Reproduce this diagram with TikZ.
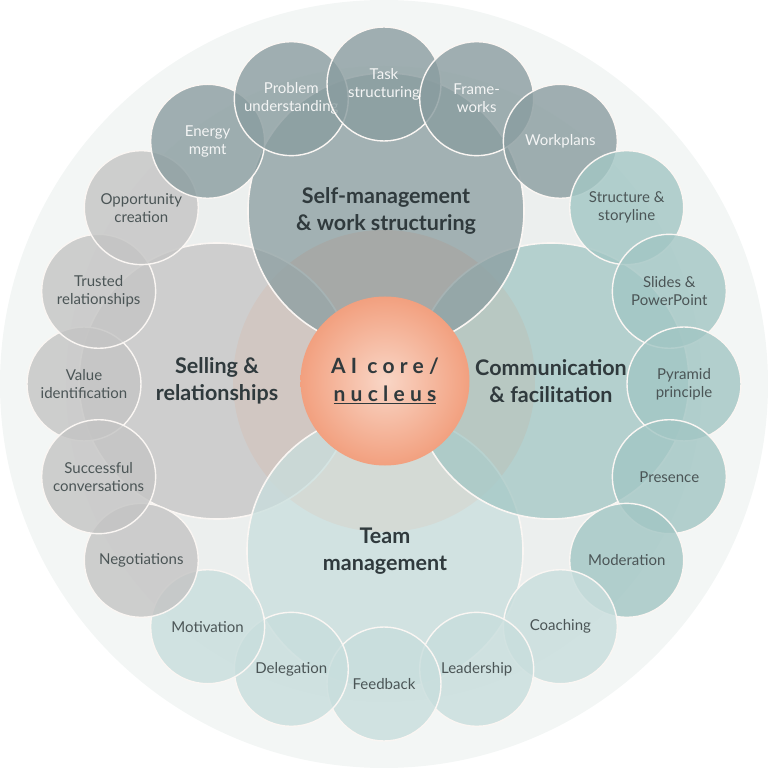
\documentclass[tikz,border=0pt]{standalone}
\usepackage{fontspec}
\setmainfont{Lato}
\definecolor{ringa}{HTML}{F3F6F5}
\definecolor{ringb}{HTML}{ECEFEE}
\definecolor{glow}{HTML}{FAD0BE}
\definecolor{rimc}{HTML}{FAF6F3}
\definecolor{selfc}{HTML}{8A9DA0}
\definecolor{sellc}{HTML}{C4C4C4}
\definecolor{commc}{HTML}{A2C6C4}
\definecolor{teamc}{HTML}{C8DEDD}
\definecolor{labc}{HTML}{303A3D}
\definecolor{satc}{HTML}{4B5556}
\definecolor{satw}{HTML}{F4F5F5}
\definecolor{corein}{HTML}{F9D6C6}
\definecolor{coreout}{HTML}{F2A07F}
\tikzset{
  big/.style={circle,draw=rimc,line width=1.6pt,fill opacity=.75,text opacity=1,
    minimum size=276pt,inner sep=0pt,align=center,text=labc,
    font=\bfseries\fontsize{21.5}{27}\selectfont},
  sat/.style={circle,draw=rimc,line width=1.4pt,fill opacity=.8,text opacity=1,
    minimum size=114pt,inner sep=0pt,align=center,
    font=\fontsize{15}{18}\selectfont},
  core/.style={circle,minimum size=169pt,inner sep=0pt,align=center,text=labc,
    shading=radial,inner color=corein,outer color=coreout,
    font=\bfseries\fontsize{21}{28}\selectfont\addfontfeature{LetterSpace=25}}
}
\begin{document}
\begin{tikzpicture}[x=1pt,y=1pt]
\useasboundingbox(-384,-384)rectangle(384,384);
% background rings
\fill[ringa](0,0)circle(384pt);
\fill[ringb](0,0)circle(318pt);
\fill[glow](0,3)circle(151pt);
% four areas
\node[big,fill=sellc](sell)at(-167,3){Selling \&\\relationships};
\node[big,fill=teamc](team)at(1,-167){Team\\management};
\node[big,fill=commc](comm)at(167,3){Communication\\\& facilitation};
\node[big,fill=selfc](self)at(2,173){Self-management\\\& work structuring};
\node[core](core)at(1,3){AI core/\\\underline{nucleus}};
% skills
\foreach \a/\n/\t/\c/\tc in {
  180/value/{Value\\identification}/sellc/satc,
  162/trust/{Trusted\\relationships}/sellc/satc,
  144/opp/{Opportunity\\creation}/sellc/satc,
  126/energy/{Energy\\mgmt}/selfc/satw,
  108/problem/{Problem\\understanding}/selfc/satw,
  90/task/{Task\\structuring}/selfc/satw,
  72/frame/{Frame-\\works}/selfc/satw,
  54/plans/{Workplans}/selfc/satw,
  36/story/{Structure \&\\storyline}/commc/satc,
  18/slides/{Slides \&\\PowerPoint}/commc/satc,
  0/pyramid/{Pyramid\\principle}/commc/satc,
  -18/presence/{Presence}/commc/satc,
  -36/moder/{Moderation}/commc/satc,
  -54/coach/{Coaching}/teamc/satc,
  -72/lead/{Leadership}/teamc/satc,
  -90/feed/{Feedback}/teamc/satc,
  -108/deleg/{Delegation}/teamc/satc,
  -126/motiv/{Motivation}/teamc/satc,
  -144/nego/{Negotiations}/sellc/satc,
  -162/talks/{Successful\\conversations}/sellc/satc}
  \node[sat,fill=\c,text=\tc](\n)at(\a:300){\t};
\end{tikzpicture}
\end{document}
